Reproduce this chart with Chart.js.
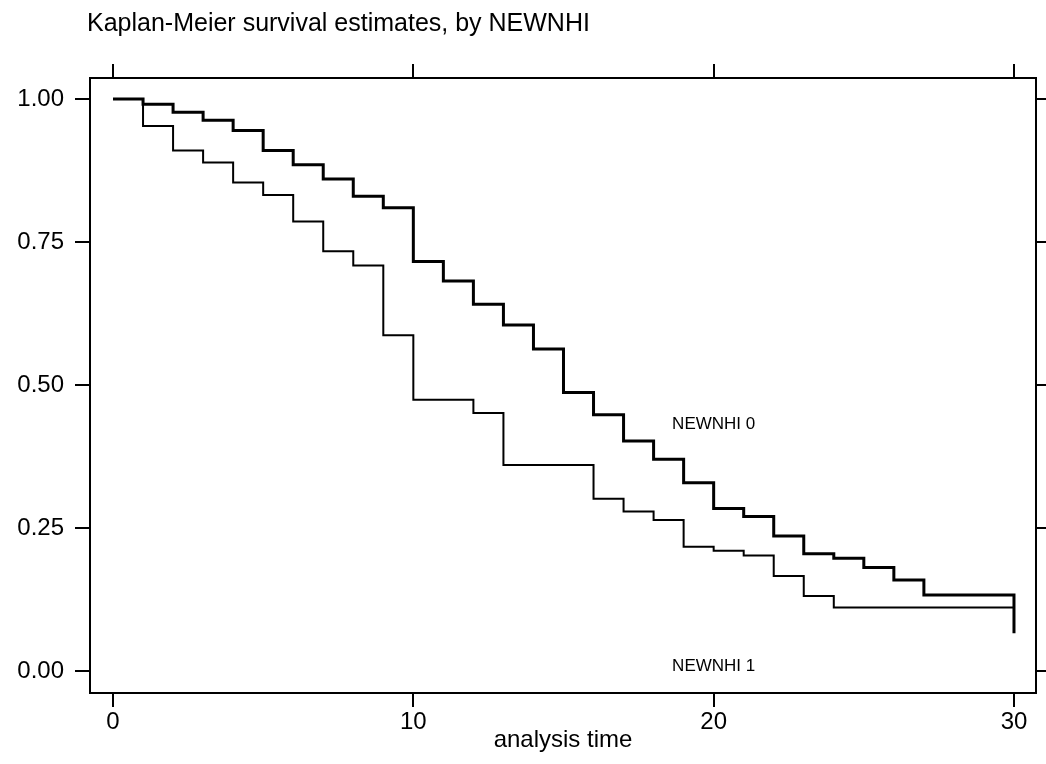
<!DOCTYPE html>
<html>
<head>
<meta charset="utf-8">
<script src="https://cdn.jsdelivr.net/npm/chart.js@4"></script>
<style>
  html, body { margin: 0; padding: 0; background: #fff; }
  canvas { display: block; }
</style>
</head>
<body>
<canvas id="km" width="1046" height="764"></canvas>
<script>
// survival estimates
const timesNew0 = [0, 1, 2, 3, 4, 5, 6, 7, 8, 9, 10, 11, 12, 13, 14, 15, 16, 17, 18, 19, 20, 21, 22, 23, 24, 25, 26, 27, 30];
const survNew0 = [1.00, 0.991, 0.977, 0.963, 0.945, 0.910, 0.885, 0.860, 0.830, 0.810, 0.716, 0.682, 0.641, 0.605, 0.563, 0.487, 0.448, 0.402, 0.370, 0.329, 0.284, 0.270, 0.236, 0.205, 0.197, 0.181, 0.159, 0.133, 0.066];

const timesNew1 = [0, 1, 2, 3, 4, 5, 6, 7, 8, 9, 10, 12, 13, 16, 17, 18, 19, 20, 21, 22, 23, 24, 30];
const survNew1 = [1.00, 0.953, 0.910, 0.889, 0.854, 0.832, 0.786, 0.734, 0.709, 0.587, 0.474, 0.451, 0.360, 0.301, 0.279, 0.264, 0.217, 0.210, 0.202, 0.166, 0.131, 0.111, 0.111];

const xTicks = [0, 10, 20, 30];
const yTicks = [0, 0.25, 0.5, 0.75, 1];
const groupLabels = ['NEWNHI 0', 'NEWNHI 1'];
const groupLabelY = [0.432, 0.009];

const FONT = "'Liberation Sans', Arial, Helvetica, sans-serif";

function toPoints(ts, vs) {
    return ts.map((t, i) => ({ x: t, y: vs[i] }));
}

function fixTicks(list) {
    return function (scale) {
        scale.ticks = list.map(v => ({ value: v }));
    };
}

// plain text bits: the title and the curve labels
const textPlugin = {
    id: 'kmText',
    afterDraw(chart) {
        const ctx = chart.ctx;
        const x = chart.scales.x, y = chart.scales.y;
        ctx.save();
        ctx.fillStyle = '#000';
        ctx.font = '25px ' + FONT;
        ctx.textAlign = 'left';
        ctx.textBaseline = 'alphabetic';
        ctx.fillText('Kaplan-Meier survival estimates, by NEWNHI', 87, 31);

        ctx.font = '17px ' + FONT;
        ctx.textAlign = 'center';
        ctx.textBaseline = 'middle';
        groupLabels.forEach((txt, i) => {
            ctx.fillText(txt, x.getPixelForValue(20), y.getPixelForValue(groupLabelY[i]));
        });
        ctx.restore();
    }
};

const xMin = -0.766, xMax = 30.733;
const yMin = -0.0385, yMax = 1.0367;

const edgeAxis = (pos, min, max, list, size, tickLen) => ({
    type: 'linear',
    position: pos,
    min: min,
    max: max,
    afterBuildTicks: fixTicks(list),
    afterFit: s => {
        if (s.isHorizontal()) s.height = size; else s.width = size;
    },
    grid: { drawOnChartArea: false, drawTicks: true, tickLength: tickLen, color: '#000', lineWidth: 2 },
    border: { display: true, color: '#000', width: 2 },
    ticks: { display: false }
});

new Chart(document.getElementById('km'), {
    type: 'line',
    data: {
        datasets: [{
            label: 'NEWNHI 0',
            data: toPoints(timesNew0, survNew0),
            stepped: true,
            borderColor: '#000',
            borderWidth: 3,
            pointRadius: 0,
            fill: false
        }, {
            label: 'NEWNHI 1',
            data: toPoints(timesNew1, survNew1),
            stepped: true,
            borderColor: '#000',
            borderWidth: 2,
            pointRadius: 0,
            fill: false
        }]
    },
    options: {
        responsive: false,
        animation: false,
        layout: { padding: 0 },
        plugins: {
            legend: { display: false },
            title: { display: false },
            tooltip: { enabled: false }
        },
        scales: {
            x: {
                type: 'linear',
                position: 'bottom',
                min: xMin,
                max: xMax,
                afterBuildTicks: fixTicks(xTicks),
                afterFit: s => { s.height = 71; },
                grid: { drawOnChartArea: false, tickLength: 14, color: '#000', lineWidth: 2 },
                border: { display: true, color: '#000', width: 2 },
                ticks: {
                    padding: 1,
                    color: '#000',
                    font: { family: FONT, size: 24 },
                    callback: v => String(v)
                },
                title: {
                    display: true,
                    text: 'analysis time',
                    color: '#000',
                    font: { family: FONT, size: 24 },
                    padding: { top: 0, bottom: 9 }
                }
            },
            y: {
                type: 'linear',
                position: 'left',
                min: yMin,
                max: yMax,
                afterBuildTicks: fixTicks(yTicks),
                afterFit: s => { s.width = 90; },
                grid: { drawOnChartArea: false, tickLength: 15, color: '#000', lineWidth: 2 },
                border: { display: true, color: '#000', width: 2 },
                ticks: {
                    padding: 11,
                    color: '#000',
                    font: { family: FONT, size: 24 },
                    callback: v => Number(v).toFixed(2)
                }
            },
            x2: edgeAxis('top', xMin, xMax, xTicks, 78, 14),
            y2: edgeAxis('right', yMin, yMax, yTicks, 10, 10)
        }
    },
    plugins: [textPlugin]
});
</script>
</body>
</html>
